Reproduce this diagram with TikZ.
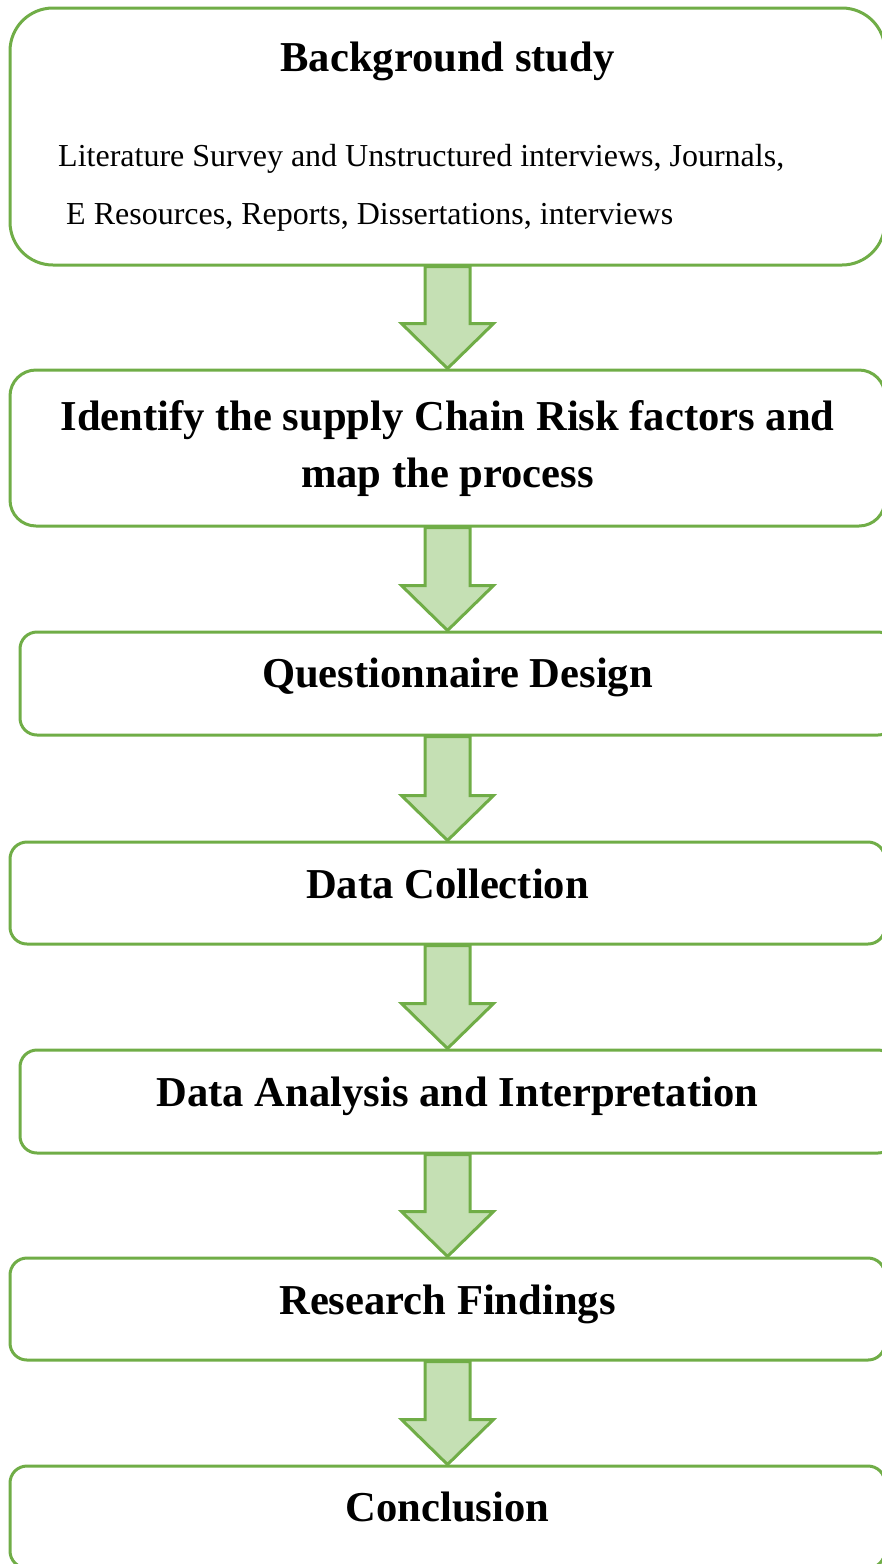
\documentclass[tikz,border=0pt]{standalone}
\usepackage{fontspec}
\setmainfont{Liberation Serif}
\usetikzlibrary{calc}

\definecolor{boxgreen}{HTML}{70AD47}
\definecolor{arrowfill}{HTML}{C5E0B4}

\tikzset{
  stagebox/.style={draw=boxgreen, line width=3pt, minimum width=875pt, inner sep=0pt},
  stagetitle/.style={font=\fontsize{42.6}{50}\selectfont\bfseries, anchor=base, inner sep=0pt},
  stagetext/.style={font=\fontsize{32}{38}\selectfont, anchor=base west, inner sep=0pt},
  flowarrow/.style={draw=boxgreen, fill=arrowfill, line width=3pt, line join=miter}
}

% block arrow from the bottom of one box to the top of the next
\newcommand{\stagearrow}[2]{%
  \draw[flowarrow] let \p1=(axis |- #1.south), \p2=(axis |- #2.north) in
    (\x1-22.5pt,\y1) -- (\x1-22.5pt,\y2+45pt) -- (\x1-46pt,\y2+45pt) -- (\x2,\y2)
    -- (\x1+46pt,\y2+45pt) -- (\x1+22.5pt,\y2+45pt) -- (\x1+22.5pt,\y1) -- cycle;
}

\begin{document}
\begin{tikzpicture}[x=1pt,y=-1pt]
    \clip (0,0) rectangle (882,1564);
    \coordinate (axis) at (447.5,0);

    % stages
    \node[stagebox, minimum height=257pt, rounded corners=43pt] (b1) at (447.5,136.5) {};
    \node[stagebox, minimum height=156pt, rounded corners=26pt] (b2) at (447.5,448) {};
    \node[stagebox, minimum height=103pt, rounded corners=17pt] (b3) at (457.5,683.5) {};
    \node[stagebox, minimum height=102pt, rounded corners=17pt] (b4) at (447.5,893) {};
    \node[stagebox, minimum height=103pt, rounded corners=17pt] (b5) at (457.5,1101.5) {};
    \node[stagebox, minimum height=102pt, rounded corners=17pt] (b6) at (447.5,1309) {};
    \node[stagebox, minimum height=102pt, rounded corners=17pt] (b7) at (447.5,1517) {};

    % texts
    \node[stagetitle] (t1) at (447.5,71) {Background study};
    \node[stagetext] (s1) at (58,166) {Literature Survey and Unstructured interviews, Journals,};
    \node[stagetext] (s2) at (66,224) {E Resources, Reports, Dissertations, interviews};
    \node[stagetitle] (t2a) at (447.5,430) {Identify the supply Chain Risk factors and};
    \node[stagetitle] (t2b) at (447.5,487) {map the process};
    \node[stagetitle] (t3) at (457.5,687) {Questionnaire Design};
    \node[stagetitle] (t4) at (447.5,898) {Data Collection};
    \node[stagetitle] (t5) at (457.5,1106) {Data Analysis and Interpretation};
    \node[stagetitle] (t6) at (447.5,1314) {Research Findings};
    \node[stagetitle] (t7) at (447.5,1521) {Conclusion};

    % arrows
    \stagearrow{b1}{b2}
    \stagearrow{b2}{b3}
    \stagearrow{b3}{b4}
    \stagearrow{b4}{b5}
    \stagearrow{b5}{b6}
    \stagearrow{b6}{b7}
\end{tikzpicture}
\end{document}
